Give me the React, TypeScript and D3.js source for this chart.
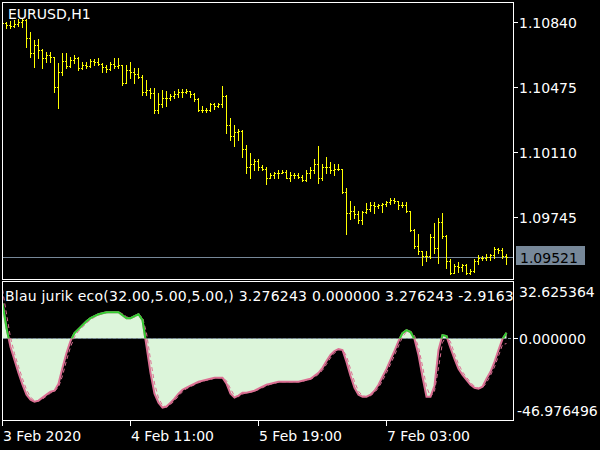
import React from 'react';
import * as d3 from 'd3';

// ---- data (H1 bars, EURUSD) ----
const openP = [1.10840, 1.10834, 1.10823, 1.10817, 1.10829, 1.10840, 1.10851, 1.10750, 1.10665, 1.10710, 1.10682, 1.10637, 1.10654, 1.10642, 1.10473, 1.10558, 1.10620, 1.10592, 1.10626, 1.10637, 1.10580, 1.10597, 1.10592, 1.10620, 1.10614, 1.10603, 1.10586, 1.10575, 1.10603, 1.10592, 1.10597, 1.10496, 1.10569, 1.10558, 1.10547, 1.10530, 1.10445, 1.10456, 1.10439, 1.10343, 1.10377, 1.10411, 1.10411, 1.10422, 1.10434, 1.10445, 1.10445, 1.10451, 1.10434, 1.10405, 1.10343, 1.10343, 1.10343, 1.10377, 1.10366, 1.10377, 1.10422, 1.10259, 1.10197, 1.10219, 1.10225, 1.10123, 1.10022, 1.10044, 1.10061, 1.10022, 1.10016, 1.09960, 1.09977, 1.09988, 1.09993, 1.09999, 1.09965, 1.09982, 1.09977, 1.09971, 1.09954, 1.09993, 1.10005, 1.10039, 1.09960, 1.10022, 1.10027, 1.10010, 1.10016, 1.10016, 1.09886, 1.09768, 1.09779, 1.09762, 1.09728, 1.09773, 1.09790, 1.09813, 1.09807, 1.09813, 1.09818, 1.09830, 1.09841, 1.09835, 1.09813, 1.09813, 1.09779, 1.09672, 1.09581, 1.09553, 1.09525, 1.09525, 1.09632, 1.09570, 1.09717, 1.09638, 1.09497, 1.09429, 1.09468, 1.09463, 1.09474, 1.09429, 1.09440, 1.09497, 1.09514, 1.09514, 1.09519, 1.09531, 1.09565, 1.09559, 1.09525];
const highP = [1.10851, 1.10840, 1.10846, 1.10851, 1.10857, 1.10863, 1.10857, 1.10784, 1.10738, 1.10744, 1.10688, 1.10671, 1.10671, 1.10642, 1.10609, 1.10665, 1.10665, 1.10642, 1.10654, 1.10642, 1.10614, 1.10614, 1.10631, 1.10631, 1.10637, 1.10609, 1.10597, 1.10614, 1.10637, 1.10637, 1.10597, 1.10597, 1.10614, 1.10580, 1.10580, 1.10541, 1.10513, 1.10467, 1.10467, 1.10439, 1.10456, 1.10451, 1.10434, 1.10451, 1.10462, 1.10462, 1.10462, 1.10451, 1.10439, 1.10411, 1.10366, 1.10355, 1.10383, 1.10383, 1.10383, 1.10479, 1.10428, 1.10298, 1.10259, 1.10236, 1.10230, 1.10146, 1.10101, 1.10072, 1.10072, 1.10033, 1.10022, 1.09993, 1.09999, 1.10005, 1.10010, 1.10010, 1.09999, 1.09988, 1.09993, 1.09982, 1.10005, 1.10022, 1.10067, 1.10140, 1.10044, 1.10078, 1.10050, 1.10039, 1.10044, 1.10016, 1.09909, 1.09835, 1.09807, 1.09779, 1.09779, 1.09824, 1.09830, 1.09830, 1.09818, 1.09824, 1.09835, 1.09852, 1.09852, 1.09835, 1.09830, 1.09830, 1.09779, 1.09677, 1.09649, 1.09553, 1.09553, 1.09649, 1.09711, 1.09739, 1.09768, 1.09643, 1.09508, 1.09480, 1.09491, 1.09480, 1.09480, 1.09452, 1.09508, 1.09531, 1.09525, 1.09536, 1.09536, 1.09576, 1.09570, 1.09570, 1.09536];
const lowP = [1.10817, 1.10806, 1.10806, 1.10812, 1.10817, 1.10812, 1.10699, 1.10642, 1.10586, 1.10637, 1.10580, 1.10614, 1.10614, 1.10445, 1.10355, 1.10541, 1.10580, 1.10586, 1.10609, 1.10569, 1.10575, 1.10580, 1.10586, 1.10597, 1.10597, 1.10558, 1.10558, 1.10569, 1.10580, 1.10580, 1.10484, 1.10496, 1.10524, 1.10496, 1.10524, 1.10428, 1.10428, 1.10411, 1.10326, 1.10326, 1.10360, 1.10366, 1.10400, 1.10411, 1.10417, 1.10417, 1.10439, 1.10417, 1.10394, 1.10338, 1.10332, 1.10332, 1.10338, 1.10349, 1.10360, 1.10360, 1.10214, 1.10174, 1.10140, 1.10174, 1.10078, 1.09993, 1.09965, 1.10010, 1.10010, 1.10005, 1.09931, 1.09960, 1.09965, 1.09965, 1.09988, 1.09960, 1.09948, 1.09965, 1.09960, 1.09943, 1.09943, 1.09965, 1.09988, 1.09937, 1.09954, 1.09988, 1.09988, 1.09977, 1.10005, 1.09881, 1.09649, 1.09734, 1.09739, 1.09711, 1.09706, 1.09768, 1.09779, 1.09768, 1.09796, 1.09773, 1.09807, 1.09818, 1.09824, 1.09790, 1.09802, 1.09773, 1.09666, 1.09570, 1.09536, 1.09474, 1.09497, 1.09514, 1.09542, 1.09485, 1.09627, 1.09457, 1.09423, 1.09429, 1.09435, 1.09440, 1.09423, 1.09423, 1.09435, 1.09480, 1.09502, 1.09502, 1.09502, 1.09514, 1.09542, 1.09514, 1.09480];
const closeP = [1.10834, 1.10823, 1.10817, 1.10829, 1.10840, 1.10851, 1.10750, 1.10665, 1.10710, 1.10682, 1.10637, 1.10654, 1.10642, 1.10473, 1.10558, 1.10620, 1.10592, 1.10626, 1.10637, 1.10580, 1.10597, 1.10592, 1.10620, 1.10614, 1.10603, 1.10586, 1.10575, 1.10603, 1.10592, 1.10597, 1.10496, 1.10569, 1.10558, 1.10547, 1.10530, 1.10445, 1.10456, 1.10439, 1.10343, 1.10377, 1.10411, 1.10411, 1.10422, 1.10434, 1.10445, 1.10445, 1.10451, 1.10434, 1.10405, 1.10343, 1.10343, 1.10343, 1.10377, 1.10366, 1.10377, 1.10422, 1.10259, 1.10197, 1.10219, 1.10225, 1.10123, 1.10022, 1.10044, 1.10061, 1.10022, 1.10016, 1.09960, 1.09977, 1.09988, 1.09993, 1.09999, 1.09965, 1.09982, 1.09977, 1.09971, 1.09954, 1.09993, 1.10005, 1.10039, 1.09960, 1.10022, 1.10027, 1.10010, 1.10016, 1.10016, 1.09886, 1.09768, 1.09779, 1.09762, 1.09728, 1.09773, 1.09790, 1.09813, 1.09807, 1.09813, 1.09818, 1.09830, 1.09841, 1.09835, 1.09813, 1.09813, 1.09779, 1.09672, 1.09581, 1.09553, 1.09525, 1.09525, 1.09632, 1.09570, 1.09717, 1.09638, 1.09497, 1.09429, 1.09468, 1.09463, 1.09474, 1.09429, 1.09440, 1.09497, 1.09514, 1.09514, 1.09519, 1.09531, 1.09565, 1.09559, 1.09525, 1.09521];

// Blau jurik eco main line and signal line
const ecoMain = [20.13, 5.91, -4.89, -12.28, -19.67, -26.50, -32.18, -35.02, -36.16, -35.59, -33.89, -32.18, -30.48, -29.91, -25.93, -16.83, -8.30, -1.48, 3.07, 5.34, 7.62, 9.89, 11.60, 12.74, 13.87, 14.44, 15.01, 15.01, 15.01, 15.01, 13.30, 11.60, 11.60, 12.74, 13.87, 10.46, -4.32, -19.67, -31.61, -36.73, -39.57, -39.00, -36.73, -34.46, -31.61, -29.34, -28.20, -27.06, -25.93, -24.79, -24.22, -23.65, -23.08, -22.52, -22.52, -22.52, -25.93, -31.61, -33.89, -32.75, -31.04, -31.04, -30.48, -29.91, -28.77, -27.63, -26.50, -25.93, -25.36, -24.79, -24.79, -24.79, -24.79, -24.79, -24.79, -24.22, -23.65, -23.08, -21.38, -19.67, -16.83, -12.85, -9.44, -7.16, -6.03, -6.60, -13.42, -21.38, -28.20, -32.18, -33.32, -33.32, -32.18, -29.91, -26.50, -21.95, -17.40, -12.28, -7.16, -1.48, 3.07, 4.78, 3.64, -0.34, -9.44, -21.95, -33.32, -33.32, -27.06, -6.60, 1.93, 1.36, -5.46, -11.71, -17.40, -20.81, -23.65, -26.50, -28.20, -28.77, -27.63, -23.08, -19.10, -13.42, -6.60, -0.34, 3.276243];
const ecoSignal = [28, 14, 0.5, -8.6, -16, -23, -29.3, -33.6, -35.6, -35.9, -34.7, -33, -31.3, -30.2, -27.9, -21.4, -12.6, -4.9, 0.8, 4.2, 6.5, 8.8, 10.7, 12.2, 13.3, 14.2, 14.7, 15, 15, 15, 14.2, 12.4, 11.6, 12.2, 13.3, 12.2, 3.1, -12, -25.6, -34.2, -38.2, -39.3, -37.9, -35.6, -33, -30.5, -28.8, -27.6, -26.5, -25.4, -24.5, -23.9, -23.4, -22.8, -22.5, -22.5, -24.2, -28.8, -32.8, -33.3, -31.9, -31, -30.8, -30.2, -29.3, -28.2, -27.1, -26.2, -25.6, -25.1, -24.8, -24.8, -24.8, -24.8, -24.8, -24.5, -23.9, -23.4, -22.2, -20.5, -18.2, -14.8, -11.1, -8.3, -6.6, -6.3, -10, -17.4, -24.8, -30.2, -32.8, -33.3, -32.8, -31, -28.2, -24.2, -19.7, -14.8, -9.7, -4.3, 0.8, 3.9, 4.2, 1.7, -4.9, -15.7, -27.6, -33.3, -30.2, -16.8, -2.3, 1.6, -2, -8.6, -14.6, -19.1, -22.2, -25.1, -27.4, -28.5, -28.2, -25.4, -21.1, -16.3, -10, -3.5, -2.9163];

const priceTicks = [1.10840, 1.10475, 1.10110, 1.09745];
const lastPrice = 1.09521;
const indMax = 32.625364;
const indMin = -46.976496;
const timeLabels = ['3 Feb 2020', '4 Feb 11:00', '5 Feb 19:00', '7 Feb 03:00'];
const timeLabelIdx = [0, 32, 64, 96];
const symbolTitle = 'EURUSD,H1';
const indTitle = 'Blau jurik eco(32.00,5.00,5.00,) 3.276243 0.000000 3.276243 -2.9163';

const FONT = '"DejaVu Sans", sans-serif';

export default function App() {
  const W = 600, H = 450;
  const L = 2.5, R = 513.5;
  const mainTop = 2.5, mainBot = 279.5, indTop = 281.5, indBot = 420.5;
  const n = closeP.length;
  const x = d3.scaleLinear().domain([0, 126]).range([2, 506]);
  const y = d3.scaleLinear().domain([1.09745, 1.10840]).range([216.7, 22]);
  const yi = d3.scaleLinear().domain([indMin, indMax]).range([indBot, indTop]);
  const zeroY = yi(0);

  const m = Math.min(ecoMain.length, n);
  const idx = d3.range(m);
  const lineMain = d3.line<number>().x(j => x(j) + 0.5).y(j => yi(ecoMain[j]));
  const areaMain = d3.area<number>().x(j => x(j) + 0.5).y0(zeroY).y1(j => yi(ecoMain[j]));
  const sIdx = d3.range(Math.min(ecoSignal.length, n));
  const lineSig = d3.line<number>().x(j => x(j) + 0.5).y(j => yi(ecoSignal[j]));

  const bars = d3.range(n).map(j => {
    const xc = Math.round(x(j));
    const yh = Math.round(y(highP[j]));
    const yl = Math.round(y(lowP[j]));
    const yo = Math.round(y(openP[j]));
    const yc = Math.round(y(closeP[j]));
    return (
      <g key={j}>
        <rect x={xc} y={yh} width={1} height={Math.max(1, yl - yh + 1)} fill="#ffff00" />
        <rect x={xc - 1} y={yo} width={1} height={1} fill="#ffff00" />
        <rect x={xc + 1} y={yc} width={1} height={1} fill="#ffff00" />
      </g>
    );
  });

  const lpY = Math.round(y(lastPrice)) + 0.5;

  return (
    <svg width={W} height={H} style={{ position: 'absolute', left: 0, top: 0, background: '#000' }}
      fontFamily={FONT} shapeRendering="auto">
      <defs>
        <clipPath id="mainClip"><rect x={3} y={3} width={510} height={276} /></clipPath>
        <clipPath id="indClip"><rect x={3} y={282} width={510} height={138} /></clipPath>
        <clipPath id="posClip"><rect x={3} y={282} width={510} height={zeroY - 282} /></clipPath>
        <clipPath id="titleClip"><rect x={0} y={282} width={513} height={30} /></clipPath>
      </defs>
      <rect x={0} y={0} width={W} height={H} fill="#000" />

      {/* main chart */}
      <g clipPath="url(#mainClip)" shapeRendering="crispEdges">
        <line x1={L} x2={R} y1={lpY} y2={lpY} stroke="#778899" strokeWidth={1} />
        {bars}
      </g>
      <text x={8} y={19} fill="#fff" fontSize={14}>{symbolTitle}</text>
      <rect x={L} y={mainTop} width={R - L} height={mainBot - mainTop} fill="none" stroke="#fff" strokeWidth={1} shapeRendering="crispEdges" />

      {/* price axis */}
      {priceTicks.map(p => {
        const yy = Math.round(y(p)) + 0.5;
        return (
          <g key={p}>
            <line x1={R} x2={R + 4} y1={yy} y2={yy} stroke="#fff" shapeRendering="crispEdges" />
            <text x={519} y={yy + 5} fill="#fff" fontSize={14}>{p.toFixed(5)}</text>
          </g>
        );
      })}
      <rect x={516} y={246} width={69} height={19} fill="#778899" />
      <text x={520} y={lpY + 5} fill="#000" fontSize={14}>{lastPrice.toFixed(5)}</text>

      {/* indicator */}
      <g clipPath="url(#indClip)">
        <path d={areaMain(idx) || ''} fill="#dcf5da" />
        <line x1={L} x2={R} y1={Math.round(zeroY) + 0.5} y2={Math.round(zeroY) + 0.5} stroke="#778899" strokeDasharray="3,2" shapeRendering="crispEdges" />
        <path d={lineSig(sIdx) || ''} fill="none" stroke="#db7093" strokeWidth={1} strokeDasharray="4,3" />
        <path d={lineMain(idx) || ''} fill="none" stroke="#db7093" strokeWidth={2} />
        <g clipPath="url(#posClip)">
          <path d={lineMain(idx) || ''} fill="none" stroke="#32cd32" strokeWidth={2} />
        </g>
      </g>
      <text x={5} y={301} fill="#fff" fontSize={14} letterSpacing={0.22} clipPath="url(#titleClip)">{indTitle}</text>
      <rect x={L} y={indTop} width={R - L} height={indBot - indTop} fill="none" stroke="#fff" strokeWidth={1} shapeRendering="crispEdges" />

      {/* indicator axis */}
      <line x1={R} x2={R + 4} y1={Math.round(zeroY) + 0.5} y2={Math.round(zeroY) + 0.5} stroke="#fff" shapeRendering="crispEdges" />
      <text x={519} y={297} fill="#fff" fontSize={14}>{indMax.toFixed(6)}</text>
      <text x={519} y={Math.round(zeroY) + 5.5} fill="#fff" fontSize={14}>{(0).toFixed(6)}</text>
      <text x={517} y={416} fill="#fff" fontSize={14}>{indMin.toFixed(6)}</text>

      {/* time axis */}
      {timeLabelIdx.map((j, k) => {
        const xx = Math.round(x(j)) + 0.5;
        return (
          <g key={j}>
            <line x1={xx} x2={xx} y1={indBot} y2={indBot + 5} stroke="#fff" shapeRendering="crispEdges" />
            <text x={xx + 0.5} y={441} fill="#fff" fontSize={14}>{timeLabels[k]}</text>
          </g>
        );
      })}
    </svg>
  );
}
